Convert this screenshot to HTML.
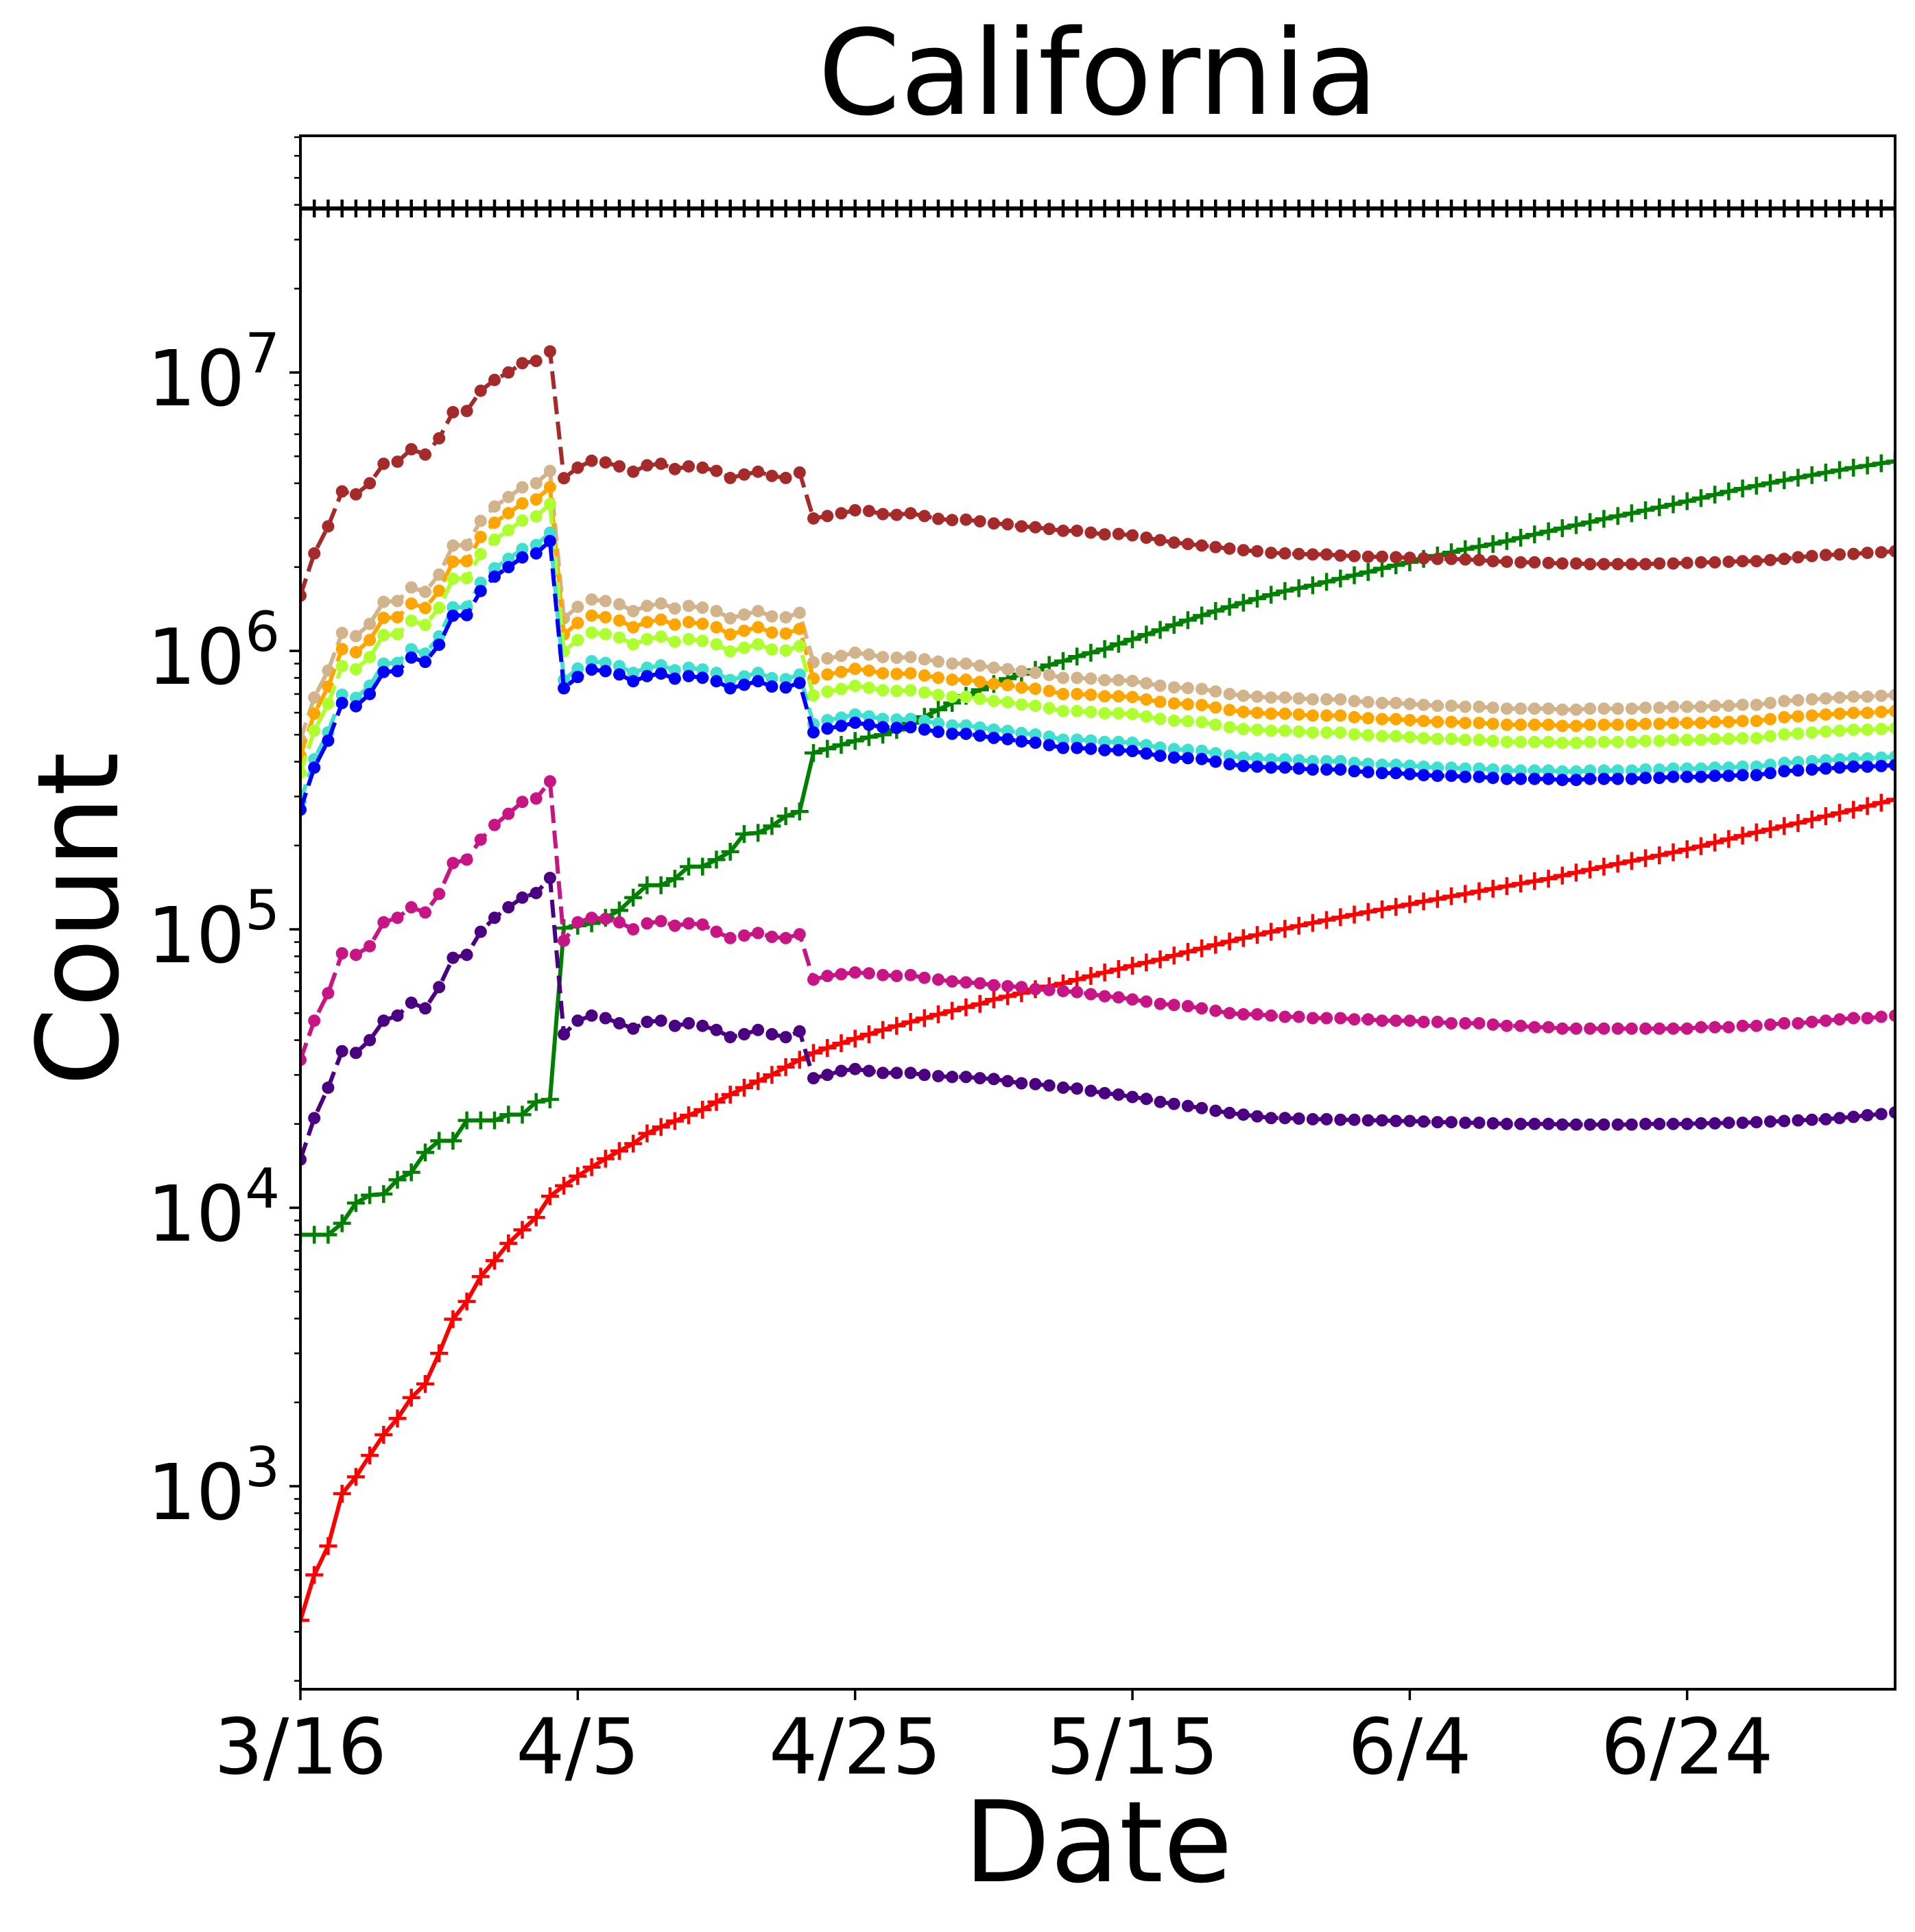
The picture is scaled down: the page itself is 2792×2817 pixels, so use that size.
<!DOCTYPE html>
<html><head><meta charset="utf-8">
<style>
html,body{margin:0;padding:0;background:#fff;}
svg{display:block;}
text{font-family:"DejaVu Sans","Liberation Sans",sans-serif;fill:#000;}
</style></head>
<body>
<svg id="chart" width="2792" height="2817" viewBox="0 0 2792 2817" xmlns="http://www.w3.org/2000/svg">
<defs><clipPath id="plotclip"><rect x="438" y="198" width="2325" height="2265"/></clipPath></defs>
<rect x="0" y="0" width="2792" height="2817" fill="#fff"/>
<text x="1601" y="166" font-size="172" text-anchor="middle">California</text>
<text x="1601" y="2743" font-size="164" text-anchor="middle">Date</text>
<text transform="translate(171,1340) rotate(-90)" font-size="164" text-anchor="middle">Count</text>
<g id="series" clip-path="url(#plotclip)"></g>
<g id="axes"></g>
</svg>
<script>
// ---- data (values in thousands unless noted) ----
const xTickDays = [0, 20, 40, 60, 80, 100];
const xTickLabels = ["3/16", "4/5", "4/25", "5/15", "6/4", "6/24"];
const yTickExponents = [3, 4, 5, 6, 7];

const populationK = [38800,38800,38800,38800,38800,38800,38800,38800,38800,38800,
38800,38800,38800,38800,38800,38800,38800,38800,38800,38800,
38800,38800,38800,38800,38800,38800,38800,38800,38800,38800,
38800,38800,38800,38800,38800,38800,38800,38800,38800,38800,
38800,38800,38800,38800,38800,38800,38800,38800,38800,38800,
38800,38800,38800,38800,38800,38800,38800,38800,38800,38800,
38800,38800,38800,38800,38800,38800,38800,38800,38800,38800,
38800,38800,38800,38800,38800,38800,38800,38800,38800,38800,
38800,38800,38800,38800,38800,38800,38800,38800,38800,38800,
38800,38800,38800,38800,38800,38800,38800,38800,38800,38800,
38800,38800,38800,38800,38800,38800,38800,38800,38800,38800,
38800,38800,38800,38800,38800,38800];

const brownK = [1580,2240,2800,3740,3650,4000,4700,4780,5300,5070,5800,7200,7270,8600,9400,10000,10800,11000,11900,
4170,4550,4820,4750,4600,4400,4640,4700,4500,4600,4550,4430,4180,4300,4400,4250,4180,4370,2990,3050,3120,3200,
3180,3100,3080,3120,3050,2980,2950,2960,2920,2870,2850,2800,2780,2740,2700,2700,2660,2620,2630,2600,
2550,2500,2450,2420,2390,2360,2330,2300,2280,2250,2240,2230,2220,2220,2200,2190,2180,2180,2170,2160,
2150,2140,2140,2130,2120,2100,2090,2080,2080,2070,2060,2060,2050,2050,2050,2050,2050,2060,2060,2070,
2080,2080,2090,2100,2100,2120,2140,2170,2190,2210,2220,2230,2250,2260,2280];

const tanK = [480,680,850,1160,1130,1250,1500,1510,1690,1630,1880,2390,2400,2930,3300,3570,3870,4000,4430,
1310,1440,1530,1510,1470,1390,1450,1480,1420,1450,1430,1390,1310,1350,1390,1330,1320,1370,910,940,960,985,
970,950,945,950,933,915,900,900,885,870,860,845,835,820,800,800,795,785,785,780,765,750,740,735,730,
715,700,690,685,680,680,675,670,670,670,660,655,650,650,645,640,635,635,630,630,625,620,620,620,620,
615,615,620,620,620,620,625,625,630,630,630,635,635,640,640,650,660,665,670,675,680,685,685,690,695];

const orangeK = [420,595,744,1015,989,1094,1313,1321,1479,1426,1645,2091,2100,2564,2888,3124,3386,3500,3876,
1146,1260,1339,1321,1286,1216,1269,1295,1243,1269,1251,1216,1146,1181,1216,1164,1155,1199,796,823,840,862,
849,831,827,831,816,801,788,788,774,761,753,739,731,718,700,700,696,687,687,683,669,656,648,643,639,
626,613,604,599,595,595,591,586,586,586,578,573,569,569,564,560,556,556,551,551,547,543,543,543,543,
538,538,543,543,543,543,547,547,551,551,551,556,556,560,560,569,578,582,586,591,595,599,599,604,608];

const greenYellowK = [365,517,646,882,859,950,1140,1148,1284,1239,1429,1816,1824,2227,2508,2713,2941,3040,3367,
996,1094,1163,1148,1117,1056,1102,1125,1079,1102,1087,1056,996,1026,1056,1011,1003,1041,692,714,730,749,
737,722,718,722,709,695,684,684,673,661,654,642,635,623,608,608,604,597,597,593,581,570,562,559,555,
543,532,524,521,517,517,513,509,509,509,502,498,494,494,490,486,483,483,479,479,475,471,471,471,471,
467,467,471,471,471,471,475,475,479,479,479,483,483,486,486,494,502,505,509,513,517,521,521,524,528];

const turquoiseK = [288,408,510,696,678,750,900,906,1014,978,1128,1434,1440,1758,1980,2142,2322,2400,2658,
786,864,918,906,882,834,870,888,852,870,858,834,786,810,834,798,792,822,546,564,576,591,
582,570,567,570,560,549,540,540,531,522,516,507,501,492,480,480,477,471,471,468,459,450,444,441,438,
429,420,414,411,408,408,405,402,402,402,396,393,390,390,387,384,381,381,378,378,375,372,372,372,372,
369,369,372,372,372,372,375,375,378,378,378,381,381,384,384,390,396,399,402,405,408,411,411,414,417];

const blueK = [269,381,476,650,633,700,840,846,946,913,1053,1338,1344,1641,1848,1999,2167,2240,2481,
734,806,857,846,823,778,812,829,795,812,801,778,734,756,778,745,739,767,510,526,538,552,
543,532,529,532,522,512,504,504,496,487,482,473,468,459,448,448,445,440,440,437,428,420,414,412,409,
400,392,386,384,381,381,378,375,375,375,370,367,364,364,361,358,356,356,353,353,350,347,347,347,347,
344,344,347,347,347,347,350,350,353,353,353,356,356,358,358,364,370,372,375,378,381,384,384,386,389];

const magentaK = [34,47,59,82,81,87,106,110,120,115,134,173,178,210,237,260,287,295,340,
91,106,110,109,106,100,105,107,103,105,104,98,93,95,97,94,93,96,66,68,69,70,
69.5,68.5,68,68.5,67,66,65,64.5,64,63,62.5,62,61,60.5,60,59.5,58.5,57.5,57,56,
55,54,53.5,53,52,51,50,49.5,49.5,49,48.5,48.5,48,48,48,47.5,47.5,47,47,47,
46.5,46.5,46,46,46,45.5,45,45,44.5,44.5,44,44,44,44,44,44,44,44,44,44,
44.5,44.5,44.5,45,45,45.5,46,46,46.5,47,47.5,48,48,48.5,49];

const indigoK = [14.9,21,27,36.5,36,40,47,49,54.5,52,62,79,81,98,110,120,130,135,153,
42,47,49,48,46,44,46.5,47,45,46,45,43.5,41,42,43.5,42,41,43,29.2,30,31,31.5,
31,30.5,30.5,30.5,30,29.7,29.5,29.5,29.2,29,28.5,28,27.8,27.5,27,26.8,26.3,25.8,25.5,25,
24.6,24,23.6,23.2,22.8,22.3,21.9,21.6,21.3,21,21,20.9,20.8,20.8,20.7,20.7,20.6,20.6,20.5,20.5,
20.4,20.3,20.3,20.2,20.2,20.1,20,20,20,20,19.9,19.9,19.9,19.9,19.9,19.9,20,20,20,20,
20.1,20.1,20.2,20.2,20.3,20.4,20.5,20.6,20.7,20.8,21,21.2,21.5,21.7,22];

const greenK = [8,8,8,8.8,10.4,11.1,11.2,12.6,13.4,15.8,17.4,17.4,20.6,20.6,20.6,21.6,21.6,24,24.5,
101,103,105,110,117,130,144,144,152,168,168,178,190,220,222,235,255,265,430,
445,460,475,490,500,520,550,580,615,650,690,725,760,795,825,855,890,920,955,985,1015,1060,1100,
1145,1190,1240,1290,1340,1390,1440,1490,1540,1590,1640,1680,1720,1770,1820,1870,1920,1980,2030,2080,
2140,2200,2260,2320,2370,2420,2480,2550,2620,2690,2760,2830,2900,2980,3050,3120,3200,3280,3360,3450,
3540,3640,3740,3830,3920,4010,4100,4190,4280,4370,4460,4550,4630,4720,4800];

// red values in raw counts
const redCounts = [330,480,610,940,1080,1290,1530,1750,2080,2330,3000,3980,4610,5660,6460,7450,8330,9230,11000,
12000,13000,14000,15000,16000,17000,18500,19500,20500,21500,22500,24000,25500,27000,28500,30000,32000,34000,36000,37500,39000,40500,
42000,43500,45000,46500,48000,49500,51000,52500,54000,56000,
57500,59000,61000,62500,64000,66000,68000,70000,72000,74000,
76000,78000,80500,83000,85500,88000,90500,93000,95500,98000,
100500,103000,105500,108000,110500,113000,115500,118000,120500,123000,
126000,128500,131500,134000,137000,140000,143000,146000,149000,152000,
156000,160000,164000,168000,172000,176000,180000,184500,189000,194000,
199000,205000,211000,217000,223000,229000,235000,241000,248000,255000,262000,269000,277000,285000,293000];

// ---- scales ----
const X0 = 438, X1 = 2763, Y0 = 198, Y1 = 2463;
const DAY_MIN = 0, DAY_MAX = 115;
const Y_TOP_LOG = 7.85, Y_BOT_LOG = 2.2709;
function xScale(d){ return X0 + (d - DAY_MIN) / (DAY_MAX - DAY_MIN) * (X1 - X0); }
function yScale(v){ return Y1 - (Math.log10(v) - Y_BOT_LOG) / (Y_TOP_LOG - Y_BOT_LOG) * (Y1 - Y0); }

const NS = "http://www.w3.org/2000/svg";
const gSeries = document.getElementById("series");
const gAxes = document.getElementById("axes");
function mk(tag, attrs, parent){
  const e = document.createElementNS(NS, tag);
  for (const k in attrs) e.setAttribute(k, attrs[k]);
  parent.appendChild(e);
  return e;
}

const seriesList = [
  {key:"population", vals:populationK, unit:1000, color:"#000000", dash:null, marker:"plus"},
  {key:"red-cases", vals:redCounts, unit:1, color:"#ff0000", dash:null, marker:"plus"},
  {key:"green-cases", vals:greenK, unit:1000, color:"#008000", dash:null, marker:"plus"},
  {key:"brown-estimate", vals:brownK, unit:1000, color:"#a52a2a", dash:"26,11", marker:"dot"},
  {key:"tan-estimate", vals:tanK, unit:1000, color:"#d2b48c", dash:"26,11", marker:"dot"},
  {key:"orange-estimate", vals:orangeK, unit:1000, color:"#ffa500", dash:"26,11", marker:"dot"},
  {key:"greenyellow-estimate", vals:greenYellowK, unit:1000, color:"#adff2f", dash:"26,11", marker:"dot"},
  {key:"turquoise-estimate", vals:turquoiseK, unit:1000, color:"#40e0d0", dash:"26,11", marker:"dot"},
  {key:"blue-estimate", vals:blueK, unit:1000, color:"#0000ff", dash:"26,11", marker:"dot"},
  {key:"magenta-estimate", vals:magentaK, unit:1000, color:"#c71585", dash:"26,11", marker:"dot"},
  {key:"indigo-estimate", vals:indigoK, unit:1000, color:"#4b0082", dash:"26,11", marker:"dot"}
];

seriesList.forEach(s => {
  const g = mk("g", {}, gSeries);
  
  
  const pts = s.vals.map((v, i) => xScale(i).toFixed(1) + "," + yScale(v * s.unit).toFixed(1));
  const line = mk("polyline", {points: pts.join(" "), fill:"none", stroke:s.color, "stroke-width":6, "stroke-linejoin":"round"}, g);
  if (s.dash) line.setAttribute("stroke-dasharray", s.dash);
  
  
  s.vals.forEach((v, i) => {
    const cx = xScale(i), cy = yScale(v * s.unit);
    let m;
    if (s.marker === "dot") {
      m = mk("circle", {cx:cx.toFixed(1), cy:cy.toFixed(1), r:9, fill:s.color}, g);
    } else {
      m = mk("path", {d:`M${(cx-13).toFixed(1)},${cy.toFixed(1)}H${(cx+13).toFixed(1)}M${cx.toFixed(1)},${(cy-13).toFixed(1)}V${(cy+13).toFixed(1)}`, stroke:s.color, "stroke-width":4.5, fill:"none"}, g);
    }
    
    
  });
});

// frame
const frame = mk("rect", {x:X0, y:Y0, width:X1-X0, height:Y1-Y0, fill:"none", stroke:"#000", "stroke-width":4}, gAxes);



// x ticks
xTickDays.forEach((d, i) => {
  const x = xScale(d);
  const t = mk("line", {x1:x, y1:Y1, x2:x, y2:Y1+16, stroke:"#000", "stroke-width":3.5}, gAxes);
  
  
  const lb = mk("text", {x:x, y:2586, "font-size":112, "text-anchor":"middle"}, gAxes);
  lb.textContent = xTickLabels[i];
  
  
});

// y ticks
yTickExponents.forEach(e => {
  const y = yScale(Math.pow(10, e));
  const t = mk("line", {x1:X0-16, y1:y, x2:X0, y2:y, stroke:"#000", "stroke-width":3.5}, gAxes);
  
  
  const lb = mk("text", {x:X0-30, y:y+48, "font-size":112, "text-anchor":"end"}, gAxes);
  const base = document.createElementNS(NS, "tspan");
  base.textContent = "10";
  lb.appendChild(base);
  const sup = document.createElementNS(NS, "tspan");
  sup.setAttribute("dy", "-48");
  sup.setAttribute("font-size", "80");
  sup.textContent = String(e);
  lb.appendChild(sup);
  
  
});
// minor y ticks
for (let e = 2; e <= 7; e++) {
  for (let m = 2; m <= 9; m++) {
    const v = m * Math.pow(10, e);
    const y = yScale(v);
    if (y < Y0 || y > Y1) continue;
    const t = mk("line", {x1:X0-9, y1:y, x2:X0, y2:y, stroke:"#000", "stroke-width":2.5}, gAxes);
    
    
  }
}
</script>
</body></html>
